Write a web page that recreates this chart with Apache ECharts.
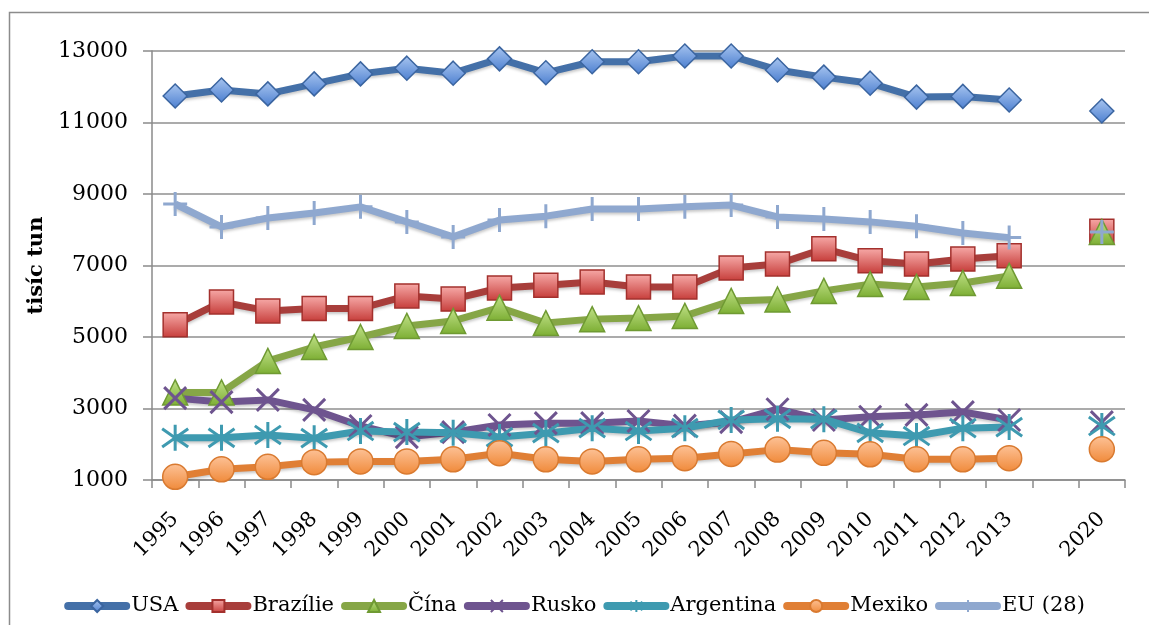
<!DOCTYPE html>
<html>
<head>
<meta charset="utf-8">
<script src="https://cdn.jsdelivr.net/npm/echarts@6/dist/echarts.min.js"></script>
<style>
html,body{margin:0;padding:0;background:#fff;}
#c{width:1149px;height:625px;}
</style>
</head>
<body>
<div id="c"></div>
<script>
var categories = ['1995','1996','1997','1998','1999','2000','2001','2002','2003','2004','2005','2006','2007','2008','2009','2010','2011','2012','2013','','2020'];
var usa       = [11740,11910,11800,12080,12360,12520,12380,12780,12390,12700,12700,12860,12860,12470,12270,12100,11710,11730,11630,null,11320];
var brazilie  = [5340,5980,5730,5800,5800,6150,6060,6370,6450,6540,6400,6400,6930,7040,7470,7130,7040,7180,7270,null,7960];
var cina      = [3450,3450,4330,4720,5000,5310,5450,5820,5390,5500,5530,5590,6010,6050,6290,6480,6400,6510,6710,null,7940];
var rusko     = [3290,3180,3240,2960,2510,2200,2340,2540,2590,2590,2650,2520,2620,2980,2680,2770,2820,2900,2680,null,2620];
var argentina = [2180,2180,2260,2170,2370,2340,2320,2200,2310,2450,2370,2450,2680,2710,2700,2320,2230,2450,2480,null,2510];
var mexiko    = [1090,1300,1370,1500,1520,1520,1580,1750,1580,1520,1580,1610,1730,1850,1760,1720,1580,1580,1610,null,1860];
var eu28      = [8720,8080,8330,8470,8640,8220,7800,8270,8380,8580,8580,8640,8690,8360,8300,8220,8100,7910,7780,null,7940];
var seriesNames = ['USA','Brazílie','Čína','Rusko','Argentina','Mexiko','EU (28)'];
var yTicks = {min:1000, max:13000, interval:2000};

function grad(top, bottom){
  return {type:'linear',x:0,y:0,x2:0,y2:1,colorStops:[{offset:0,color:top},{offset:1,color:bottom}]};
}
var FONT = 'DejaVu Serif';
function mk(name, data, lineColor, symbol, size, itemStyle){
  return {
    name: name, type:'line', data: data, connectNulls:false,
    symbol: symbol, symbolSize: size, showSymbol:true,
    lineStyle:{color:lineColor, width:7, shadowBlur:3, shadowColor:'rgba(0,0,0,0.22)', shadowOffsetY:2},
    itemStyle: itemStyle,
    emphasis:{disabled:true},
    animation:false
  };
}
var chart = echarts.init(document.getElementById('c'), null, {renderer:'canvas'});
var option = {
  backgroundColor:'#fff',
  animation:false,
  graphic:[{type:'rect', shape:{x:9.5,y:12.5,width:1300,height:800}, style:{fill:'none', stroke:'#8c8c8c', lineWidth:1.5}, silent:true, z:-1}],
  grid:{left:152, right:24, top:51, bottom:145, containLabel:false},
  legend:{
    data: seriesNames, top:589, left:'center', itemWidth:58, itemHeight:15, itemGap:7,
    lineStyle:{width:8, cap:'round'},
    textStyle:{fontFamily:FONT, fontSize:21, color:'#000', lineHeight:24}
  },
  xAxis:{
    type:'category', data:categories, boundaryGap:true,
    axisLine:{lineStyle:{color:'#8a8a8a', width:1.5}},
    axisTick:{show:true, length:8, interval:0, lineStyle:{color:'#8a8a8a', width:1.5}},
    axisLabel:{interval:0, rotate:45, margin:36, fontFamily:FONT, fontSize:21, color:'#000'}
  },
  yAxis:{
    type:'value', min:yTicks.min, max:yTicks.max, interval:yTicks.interval,
    name:'tisíc tun', nameLocation:'middle', nameGap:88, nameRotate:90,
    nameTextStyle:{fontFamily:FONT, fontSize:21, fontWeight:'bold', color:'#000'},
    axisLine:{show:true, lineStyle:{color:'#8a8a8a', width:1.5}},
    axisTick:{show:true, length:9, lineStyle:{color:'#8a8a8a', width:1.5}},
    axisLabel:{margin:24, fontFamily:FONT, fontSize:22, color:'#000', formatter:function(v){return String(v);}},
    splitLine:{show:true, lineStyle:{color:'#8f8f8f', width:1.5}}
  },
  series:[
    mk(seriesNames[0], usa, '#4470A8', 'diamond', 24, {color:grad('#a9c6f0','#4c7fd0'), borderColor:'#3b65a0', borderWidth:1.5}),
    mk(seriesNames[1], brazilie, '#A83E3B', 'rect', 24, {color:grad('#f7aaa8','#c63d3a'), borderColor:'#a3302d', borderWidth:1.5}),
    mk(seriesNames[2], cina, '#86A646', 'triangle', 25, {color:grad('#c2e28a','#7cae33'), borderColor:'#6f9a33', borderWidth:1.5}),
    mk(seriesNames[3], rusko, '#6E548F', 'path://M0,0L10,10M10,0L0,10', 22, {color:'#6E548F', borderColor:'#6E548F', borderWidth:3}),
    mk(seriesNames[4], argentina, '#3E9AB0', 'path://M0,1.5L10,8.5M10,1.5L0,8.5M5,0L5,10', 26, {color:'#3E9AB0', borderColor:'#3E9AB0', borderWidth:3}),
    mk(seriesNames[5], mexiko, '#E07F35', 'circle', 25, {color:grad('#fdc297','#f08a3a'), borderColor:'#d97a30', borderWidth:1.5}),
    mk(seriesNames[6], eu28, '#8FA8CF', 'path://M0,5L10,5M5,0L5,10', 24, {color:'#8FA8CF', borderColor:'#8FA8CF', borderWidth:3})
  ]
};
chart.setOption(option);
</script>
</body>
</html>
